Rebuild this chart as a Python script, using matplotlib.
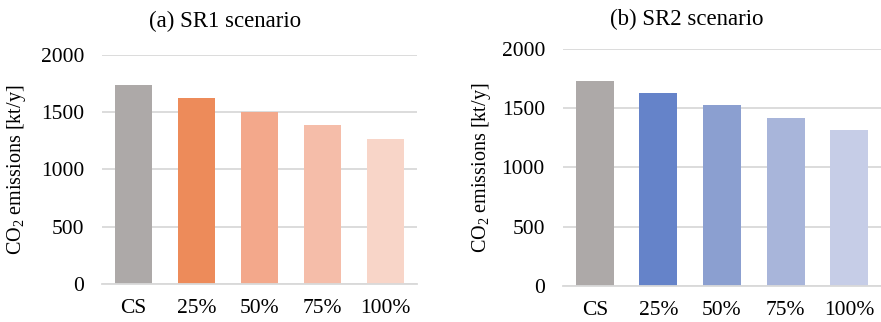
import matplotlib
matplotlib.use("Agg")
import matplotlib.pyplot as plt

plt.rcParams['font.family'] = ['Liberation Serif', 'DejaVu Serif']
plt.rcParams['mathtext.default'] = 'regular'

categories = ['CS', '25%', '50%', '75%', '100%']
sr1_values = [1733, 1619, 1497, 1384, 1262]
sr2_values = [1727, 1625, 1524, 1414, 1313]
sr1_colors = ['#ADA9A8', '#ED8B5A', '#F3A88B', '#F5BDA9', '#F8D5C8']
sr2_colors = ['#ADA9A8', '#6583C9', '#8B9FD0', '#A8B5DA', '#C6CDE7']
titles = ['(a) SR1 scenario', '(b) SR2 scenario']

fig = plt.figure(figsize=(8.81, 3.22), dpi=100)
ax1 = fig.add_axes([0.1158, 0.118, 0.3575, 0.712])
ax2 = fig.add_axes([0.639, 0.1127, 0.361, 0.735])

for ax, vals, cols, title in [(ax1, sr1_values, sr1_colors, titles[0]),
                              (ax2, sr2_values, sr2_colors, titles[1])]:
    ax.bar(categories, vals, color=cols, width=0.6, zorder=2)
    ax.set_ylim(0, 2000)
    ax.set_xlim(-0.5, 4.5)
    ax.set_yticks([0, 500, 1000, 1500, 2000])
    ax.grid(axis='y', color='#D9D9D9', linewidth=1.3, zorder=0)
    for s in ['top', 'right', 'left']:
        ax.spines[s].set_visible(False)
    ax.spines['bottom'].set_color('#D9D9D9')
    ax.spines['bottom'].set_linewidth(1.3)
    ax.tick_params(length=0, labelsize=15.5)
    ax.tick_params(axis='y', pad=13)
    ax.tick_params(axis='x', pad=11)
    ax.set_ylabel('CO$_2$ emissions [kt/y]', fontsize=14.5)

ax1.set_title(titles[0], fontsize=16.5, pad=20, x=0.392)
ax2.set_title(titles[1], fontsize=16.5, pad=17, x=0.388)
ax1.yaxis.set_label_coords(-0.235, 0.5)
ax2.yaxis.set_label_coords(-0.22, 0.5)

fig.savefig('out.png', dpi=100)
